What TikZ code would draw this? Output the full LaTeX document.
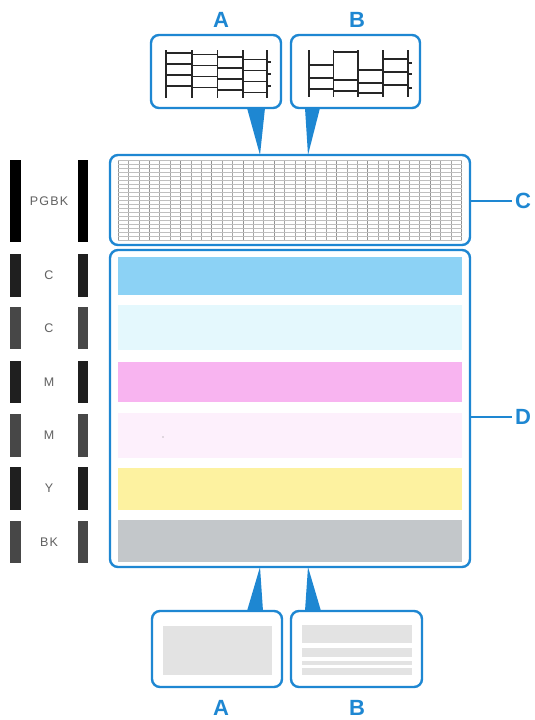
\documentclass[tikz,border=0pt]{standalone}
\usepackage{fontspec}
\setmainfont{Liberation Sans}
\usetikzlibrary{calc}
\definecolor{cblue}{RGB}{30,135,210}
\definecolor{barC}{RGB}{140,210,245}
\definecolor{barLC}{RGB}{228,248,253}
\definecolor{barM}{RGB}{248,180,240}
\definecolor{barLM}{RGB}{253,240,252}
\definecolor{barY}{RGB}{253,242,160}
\definecolor{barK}{RGB}{195,199,202}

\begin{document}
\begin{tikzpicture}[x=1pt,y=-1pt,
  panel/.style={draw=cblue,line width=2.4pt,rounded corners=8pt,inner sep=0pt,outer sep=0pt},
  letter/.style={text=cblue,font=\fontsize{22}{22}\selectfont\bfseries},
  tag/.style={text=black!62,font=\fontsize{12.5}{12}\selectfont\addfontfeatures{LetterSpace=10}},
  ink/.style={line width=1.6pt,black!85},
  pointer/.style={fill=cblue}]
  \fill[white] (0,0) rectangle (535,720);
  \useasboundingbox (0,0) rectangle (535,720);
  \begin{scope}
    \foreach \ya/\yb/\lbl/\tone [count=\i] in {160/242/PGBK/black, 254/297/C/black!88, 307/349/C/black!72, 361/403/M/black!88, 414/457/M/black!72, 467/510/Y/black!88, 521/563/BK/black!72}{
      \fill[\tone] (10,\ya) rectangle (21,\yb);
      \fill[\tone] (78,\ya) rectangle (88,\yb);
      \node[tag] (tag\i) at (49,{(\ya+\yb)/2}) {\lbl};
    }
  \end{scope}
  \begin{scope}
    \foreach \x in {0,...,33}
      \draw[gray!70,line width=0.5pt] ({118+\x*10.4},160)--({118+\x*10.4},240);
    \foreach \x in {0,3,...,33}
      \draw[gray!85,line width=0.6pt] ({118+\x*10.4},160)--({118+\x*10.4},240);
    \foreach \y in {0,...,20}
      \draw[gray!50,line width=0.4pt] (118,{160+\y*4})--(462,{160+\y*4});
    \foreach \ya/\yb/\hue in {257/295/barC, 305/350/barLC, 362/402/barM, 413/458/barLM, 468/510/barY, 520/562/barK}
      \fill[\hue] (118,\ya) rectangle (462,\yb);
    \fill[gray] (163,437) circle (0.7);
  \end{scope}
  \begin{scope}
    \foreach \x in {166,191.7,217.3,242.7,267}
      \draw[ink] (\x,50)--(\x,98);
    \foreach \xa/\xb/\dy in {166/191.7/0, 191.7/217.3/1.5, 217.3/242.7/4, 242.7/267/6.5}
      \foreach \r in {0,1,2,3}
        \draw[ink] (\xa,{53+\dy+\r*11})--(\xb,{53+\dy+\r*11});
    \foreach \r in {0,1,2}
      \draw[ink] (267,{62+\r*12})--(271,{62+\r*12});
    \foreach \x in {309,333.5,358,383,408}
      \draw[ink] (\x,50)--(\x,97);
    \foreach \xa/\xb/\ra/\rb/\rc in {309/333.5/65/78/89, 333.5/358/52/80/91, 358/383/70/83/93, 383/408/59/72/85}
      \foreach \r in {\ra,\rb,\rc}
        \draw[ink] (\xa,\r)--(\xb,\r);
    \foreach \r in {63,74,88}
      \draw[ink] (408,\r)--(412,\r);
    \fill[gray!22] (163,626) rectangle (272,675);
    \foreach \ya/\yb in {625/643,648/657,661/665,668/675}
      \fill[gray!22] (302,\ya) rectangle (412,\yb);
  \end{scope}
  \node[panel,minimum width=130pt,minimum height=73pt] (sampleA) at (216,71.5) {};
  \node[panel,minimum width=129pt,minimum height=73pt] (sampleB) at (355.5,71.5) {};
  \node[panel,minimum width=360pt,minimum height=90pt] (boxC) at (290,200) {};
  \node[panel,minimum width=360pt,minimum height=317pt] (boxD) at (290,408.5) {};
  \node[panel,minimum width=130pt,minimum height=76pt] (blankA) at (217,649) {};
  \node[panel,minimum width=131pt,minimum height=76pt] (blankB) at (356.5,649) {};
  \node[letter] (labA) at (221,20) {A};
  \node[letter] (labB) at (357,20) {B};
  \node[letter] (labC) at (523,201) {C};
  \node[letter] (labD) at (523,417) {D};
  \node[letter] (labAbot) at (221,708) {A};
  \node[letter] (labBbot) at (357,708) {B};
  \fill[pointer] ([xshift=31pt]sampleA.south)--([xshift=49pt]sampleA.south)--($(boxC.north west)+(150,0)$)--cycle;
  \fill[pointer] ([xshift=-50.5pt]sampleB.south)--([xshift=-35.5pt]sampleB.south)--($(boxC.north west)+(198,0)$)--cycle;
  \fill[pointer] ([xshift=30pt]blankA.north)--([xshift=46pt]blankA.north)--($(boxD.south west)+(150,0)$)--cycle;
  \fill[pointer] ([xshift=-51.5pt]blankB.north)--([xshift=-35.5pt]blankB.north)--($(boxD.south west)+(198,0)$)--cycle;
  \draw[cblue,line width=2.4pt] (labC.west -| boxC.east)--(labC.west);
  \draw[cblue,line width=2.4pt] (labD.west -| boxD.east)--(labD.west);
\end{tikzpicture}
\end{document}
